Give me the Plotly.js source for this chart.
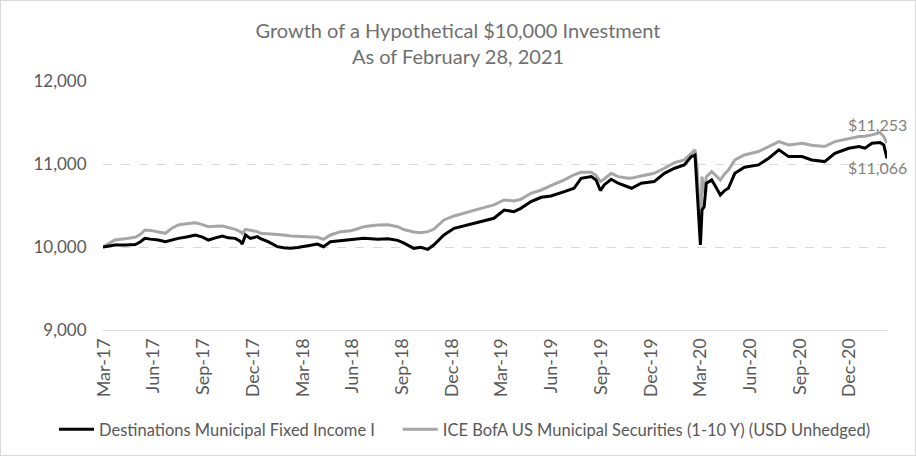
<!DOCTYPE html>
<html>
<head>
<meta charset="utf-8">
<script src="https://cdn.plot.ly/plotly-3.0.1.min.js"></script>
<style>
  html, body { margin: 0; padding: 0; background: #fff; }
  #chart { width: 914px; height: 454px; border: 1px solid #d9d9d9; }
</style>
</head>
<body>
<div id="chart"></div>
<script>
const dates = [
  "2017-03-01","2017-03-12","2017-03-23","2017-04-11","2017-04-30","2017-05-09","2017-05-18","2017-05-28",
  "2017-06-12","2017-06-25","2017-07-08","2017-07-19","2017-08-03","2017-08-20","2017-09-02","2017-09-13",
  "2017-09-26","2017-10-09","2017-10-20","2017-11-02","2017-11-11","2017-11-15","2017-11-21","2017-11-30",
  "2017-12-13","2017-12-19","2018-01-02","2018-01-19","2018-01-31","2018-02-13","2018-02-26","2018-03-09",
  "2018-03-22","2018-04-04","2018-04-15","2018-04-28","2018-05-17","2018-06-05","2018-06-18","2018-06-29",
  "2018-07-12","2018-07-25","2018-08-13","2018-08-31","2018-09-11","2018-09-24","2018-09-30","2018-10-13",
  "2018-10-26","2018-11-06","2018-11-25","2018-12-14","2019-01-09","2019-02-02","2019-02-26","2019-03-17",
  "2019-04-04","2019-04-17","2019-05-06","2019-05-25","2019-06-12","2019-07-07","2019-07-25","2019-08-07",
  "2019-08-26","2019-09-04","2019-09-12","2019-09-19","2019-10-02","2019-10-15","2019-11-03","2019-11-09",
  "2019-11-27","2019-12-21","2020-01-09","2020-01-28","2020-02-15","2020-02-28","2020-03-06","2020-03-10",
  "2020-03-13","2020-03-16","2020-03-19","2020-03-23","2020-03-27","2020-04-06","2020-04-14","2020-04-22",
  "2020-04-30","2020-05-07","2020-05-19","2020-06-06","2020-07-02","2020-07-21","2020-08-09",
  "2020-08-27","2020-09-21","2020-10-09","2020-11-02","2020-11-21","2020-12-17","2021-01-05","2021-01-16",
  "2021-01-29","2021-02-13","2021-02-20","2021-02-26"
];

// Destinations Municipal Fixed Income I
const fundValues = [
  10000,10015,10024,10024,10030,10060,10104,10095,
  10084,10064,10090,10104,10120,10145,10120,10084,
  10110,10133,10110,10104,10070,10036,10145,10104,
  10125,10100,10064,10004,9990,9984,9995,10004,
  10020,10036,10004,10064,10076,10084,10095,10104,
  10098,10092,10100,10080,10050,10010,9984,9996,
  9972,10024,10145,10225,10265,10306,10346,10446,
  10426,10466,10547,10599,10615,10667,10708,10828,
  10848,10808,10680,10748,10816,10768,10728,10708,
  10768,10788,10888,10949,10989,11089,11109,10607,
  10245,10024,10446,10486,10768,10808,10720,10627,
  10680,10708,10888,10961,10989,11069,11170,
  11089,11089,11049,11029,11129,11190,11210,11190,
  11250,11258,11230,11066
];

// ICE BofA US Municipal Securities (1-10 Y) (USD Unhedged)
const indexValues = [
  10000,10040,10084,10100,10117,10150,10205,10200,
  10185,10165,10230,10265,10280,10293,10270,10245,
  10250,10253,10235,10213,10185,10165,10213,10205,
  10185,10165,10160,10157,10145,10133,10128,10125,
  10120,10117,10092,10145,10185,10197,10220,10245,
  10255,10265,10269,10245,10210,10185,10180,10173,
  10185,10213,10326,10374,10426,10466,10507,10567,
  10555,10575,10647,10687,10740,10808,10870,10900,
  10900,10860,10790,10820,10888,10848,10828,10830,
  10856,10888,10949,11017,11049,11129,11170,10950,
  10600,10125,10848,10647,10848,10908,10860,10808,
  10880,10928,11049,11109,11150,11210,11270,
  11230,11250,11225,11210,11270,11310,11331,11335,
  11351,11379,11331,11253
];

const seriesNames = [
  "Destinations Municipal Fixed Income I",
  "ICE BofA US Municipal Securities (1-10 Y) (USD Unhedged)"
];
const seriesColors = ["#000000", "#a6a6a6"];

const yTicks = [9000, 10000, 11000, 12000];
// Quarterly category labels; each sits on a data date inside the labelled month
const xTickVals = [
  "2017-03-03","2017-06-03","2017-09-04","2017-12-05","2018-03-08","2018-06-08","2018-09-09","2018-12-10",
  "2019-03-12","2019-06-13","2019-09-13","2019-12-15","2020-03-16","2020-06-17","2020-09-17","2020-12-18"
];
const xTickText = [
  "Mar-17","Jun-17","Sep-17","Dec-17","Mar-18","Jun-18","Sep-18","Dec-18",
  "Mar-19","Jun-19","Sep-19","Dec-19","Mar-20","Jun-20","Sep-20","Dec-20"
];

const FONT = "Lato, 'Open Sans', sans-serif";
const fmt = v => "$" + v.toLocaleString("en-US");

const fundTrace = { x: dates, y: fundValues, name: seriesNames[0], type: "scatter", mode: "lines",
  line: { color: seriesColors[0], width: 3 }, legend: "legend" };
const indexTrace = { x: dates, y: indexValues, name: seriesNames[1], type: "scatter", mode: "lines",
  line: { color: seriesColors[1], width: 3 }, legend: "legend2" };

const legendBase = {
  orientation: "h", xanchor: "left", y: -0.40, yanchor: "middle",
  font: { family: FONT, size: 16.5, color: "#595959" }, itemwidth: 35,
  bgcolor: "rgba(0,0,0,0)"
};

const lastI = dates.length - 1;
const layout = {
  width: 914, height: 454,
  margin: { l: 102, r: 28, t: 80, b: 125, autoexpand: false },
  paper_bgcolor: "#ffffff", plot_bgcolor: "#ffffff",
  font: { family: FONT, color: "#595959", size: 16 },
  title: {
    text: "Growth of a Hypothetical $10,000 Investment<br>As of February 28, 2021",
    font: { family: FONT, size: 20, color: "#6f6f6f" },
    x: 0.5, xanchor: "center", y: 0.9175, yanchor: "top"
  },
  xaxis: {
    type: "date",
    range: ["2017-03-01", "2021-02-26"],
    tickvals: xTickVals, ticktext: xTickText,
    tickangle: -90,
    showgrid: false,
    showline: true, linecolor: "#d9d9d9", linewidth: 1,
    ticks: "", tickfont: { family: FONT, size: 18, color: "#595959" },
    zeroline: false, fixedrange: true
  },
  yaxis: {
    range: [9000, 12000],
    tickvals: yTicks,
    tickformat: ",",
    showgrid: true, gridcolor: "#d9d9d9", griddash: "dash", gridwidth: 1,
    zeroline: false, showline: false,
    ticks: "outside", ticklen: 12, tickcolor: "rgba(0,0,0,0)",
    tickfont: { family: FONT, size: 17, color: "#595959" },
    fixedrange: true
  },
  showlegend: true,
  legend: Object.assign({}, legendBase, { x: -0.0625 }),
  legend2: Object.assign({}, legendBase, { x: 0.376 }),
  annotations: [
    { x: dates[lastI], y: indexValues[lastI], xref: "x", yref: "y",
      text: fmt(indexValues[lastI]), showarrow: false,
      xanchor: "right", yanchor: "middle", xshift: 22, yshift: 19,
      font: { family: FONT, size: 16, color: "#7f7f7f" } },
    { x: dates[lastI], y: fundValues[lastI], xref: "x", yref: "y",
      text: fmt(fundValues[lastI]), showarrow: false,
      xanchor: "right", yanchor: "middle", xshift: 22, yshift: -9,
      font: { family: FONT, size: 16, color: "#7f7f7f" } }
  ]
};

Plotly.newPlot("chart", [indexTrace, fundTrace], layout, { displayModeBar: false, staticPlot: true });
</script>
</body>
</html>
